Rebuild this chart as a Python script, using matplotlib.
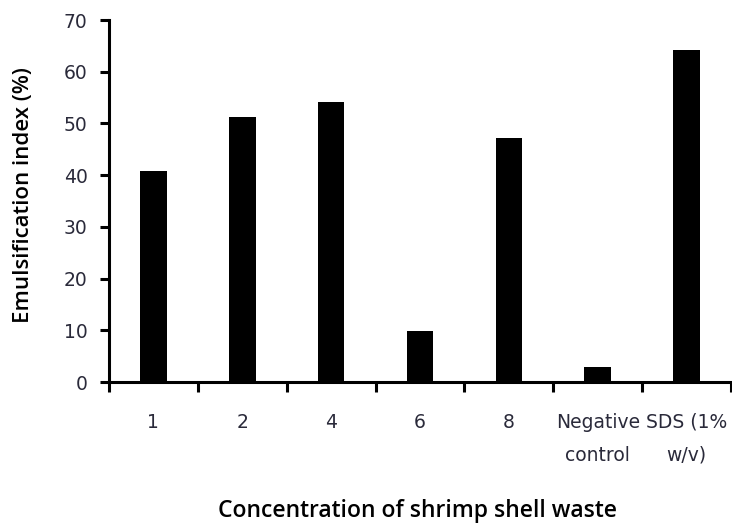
import matplotlib
matplotlib.use("Agg")
import matplotlib.pyplot as plt

categories = ["1", "2", "4", "6", "8", "Negative\ncontrol", "SDS (1%\nw/v)"]
emulsification = [40.8, 51.3, 54.2, 9.9, 47.1, 2.9, 64.2]
y_ticks = [0, 10, 20, 30, 40, 50, 60, 70]

W, H = 732, 525
fig = plt.figure(figsize=(W / 100, H / 100), dpi=100)
ax = fig.add_axes([109 / W, 1 - 382 / H, (731 - 109) / W, (382 - 20) / H])

x = list(range(len(categories)))
ax.bar(x, emulsification, width=0.30, color="black", zorder=3)

ax.set_xlim(-0.5, len(categories) - 0.5)
ax.set_ylim(0, 70)
ax.set_yticks(y_ticks)
ax.set_yticklabels([str(t) for t in y_ticks], fontsize=13.5, family="DejaVu Sans", color="#2a2a3a")

# category boundaries carry the tick marks; labels sit between them
ax.set_xticks([i - 0.5 for i in range(len(categories) + 1)])
ax.set_xticklabels([])
ax.set_xticks(x, minor=True)
ax.set_xticklabels(categories, minor=True, fontsize=13.5, family="DejaVu Sans",
                   color="#2a2a3a", linespacing=1.95)
ax.tick_params(axis="x", which="major", direction="out", length=7.5, width=2.2)
ax.tick_params(axis="x", which="minor", length=0, pad=22)
ax.tick_params(axis="y", direction="out", length=6.5, width=2.2, pad=9)

for side in ("top", "right"):
    ax.spines[side].set_visible(False)
for side in ("left", "bottom"):
    ax.spines[side].set_linewidth(2.2)

fig.text(417 / W, 1 - 511 / H, "Concentration of shrimp shell waste",
         ha="center", va="center", fontsize=16.5, family="Open Sans", weight="semibold")
fig.text(24 / W, 1 - 195 / H, "Emulsification index (%)", rotation=90,
         ha="center", va="center", fontsize=16, family="Open Sans", weight="semibold")

fig.savefig("out.png", dpi=100)
